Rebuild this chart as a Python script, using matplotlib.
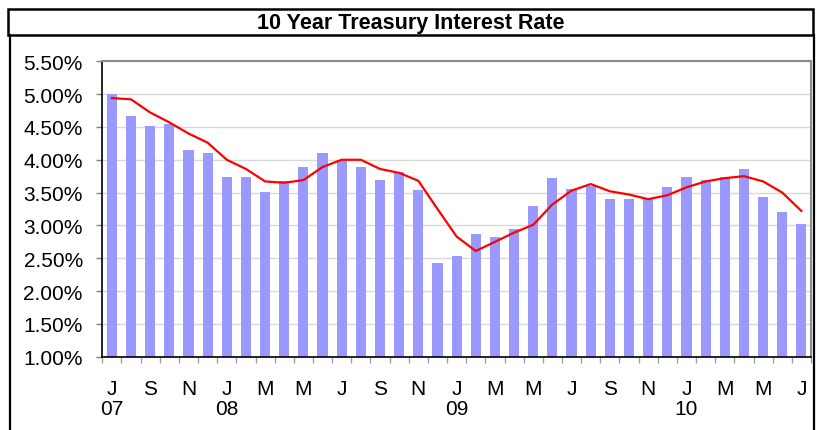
import matplotlib
matplotlib.use("Agg")
import matplotlib.pyplot as plt
from matplotlib.patches import Rectangle
from matplotlib.lines import Line2D
import numpy as np

plt.rcParams['font.family'] = ['Liberation Sans', 'DejaVu Sans']

# ---- data (Jul 2007 .. Jul 2010, monthly) ----
title = "10 Year Treasury Interest Rate"
tick_labels = ["J\n07", "", "S", "", "N", "", "J\n08", "", "M", "", "M", "",
               "J", "", "S", "", "N", "", "J\n09", "", "M", "", "M", "",
               "J", "", "S", "", "N", "", "J\n10", "", "M", "", "M", "", "J"]
rates = [5.00, 4.67, 4.52, 4.54, 4.15, 4.10, 3.74, 3.74, 3.51, 3.68, 3.89, 4.10,
         4.00, 3.89, 3.69, 3.82, 3.54, 2.43, 2.53, 2.87, 2.82, 2.95, 3.30, 3.72,
         3.55, 3.60, 3.40, 3.40, 3.40, 3.59, 3.74, 3.69, 3.74, 3.86, 3.43, 3.21,
         3.02]
trend = [4.94, 4.92, 4.72, 4.57, 4.40, 4.26, 4.00, 3.86, 3.67, 3.65, 3.69, 3.89,
         4.00, 4.00, 3.86, 3.80, 3.68, 3.25, 2.83, 2.61, 2.75, 2.89, 3.01, 3.32,
         3.53, 3.63, 3.52, 3.47, 3.40, 3.46, 3.58, 3.67, 3.72, 3.75, 3.67, 3.50,
         3.22]
y_ticks = [1.0, 1.5, 2.0, 2.5, 3.0, 3.5, 4.0, 4.5, 5.0, 5.5]

W, H = 817, 431
fig = plt.figure(figsize=(W / 100, H / 100), dpi=100)
fx = lambda x: x / W
fy = lambda y: 1 - y / H

# frames
fig.patches.append(Rectangle((fx(8), fy(36)), (813 - 8) / W, (36 - 10) / H,
                             fill=False, lw=1.8, ec='black',
                             transform=fig.transFigure))
for xx in (9.5, 813.5):
    fig.lines.append(Line2D([fx(xx), fx(xx)], [fy(36), -0.05], color='black',
                            lw=1.6, transform=fig.transFigure))
fig.text(fx(411), fy(23), title, ha='center', va='center',
         fontsize=15.5, fontweight='bold')

ax = fig.add_axes([fx(102.3), fy(357.7), (811 - 102.3) / W, (357.7 - 62.3) / H])
x = np.arange(len(rates))
ax.bar(x, rates, width=0.53, color='#9999FF', zorder=2)
ax.plot(x, trend, color='#FF0000', lw=1.6, zorder=3)

ax.set_xlim(-0.5, len(rates) - 0.5)
ax.set_ylim(1.0, 5.5)
ax.set_yticks(y_ticks)
ax.set_yticklabels([f"{v:.2f}%" for v in y_ticks], fontsize=15)
ax.yaxis.grid(True, color='#D9D9D9', lw=1)
ax.set_axisbelow(True)
ax.tick_params(axis='y', length=4, width=1, color='#808080', pad=10)

ax.set_xticks(np.arange(-0.5, len(rates), 1))
ax.set_xticklabels([])
ax.set_xticks(x, minor=True)
ax.set_xticklabels(tick_labels, minor=True, fontsize=15, linespacing=1.05)
ax.tick_params(axis='x', which='major', length=4, width=1, color='#A0A0A0')
ax.tick_params(axis='x', which='minor', length=0, pad=16)

for s in ('top', 'right'):
    ax.spines[s].set_color('#8C8C8C')
    ax.spines[s].set_linewidth(1.5)
for s in ('left', 'bottom'):
    ax.spines[s].set_color('black')
    ax.spines[s].set_linewidth(1.2)

fig.savefig('out.png', dpi=100)
